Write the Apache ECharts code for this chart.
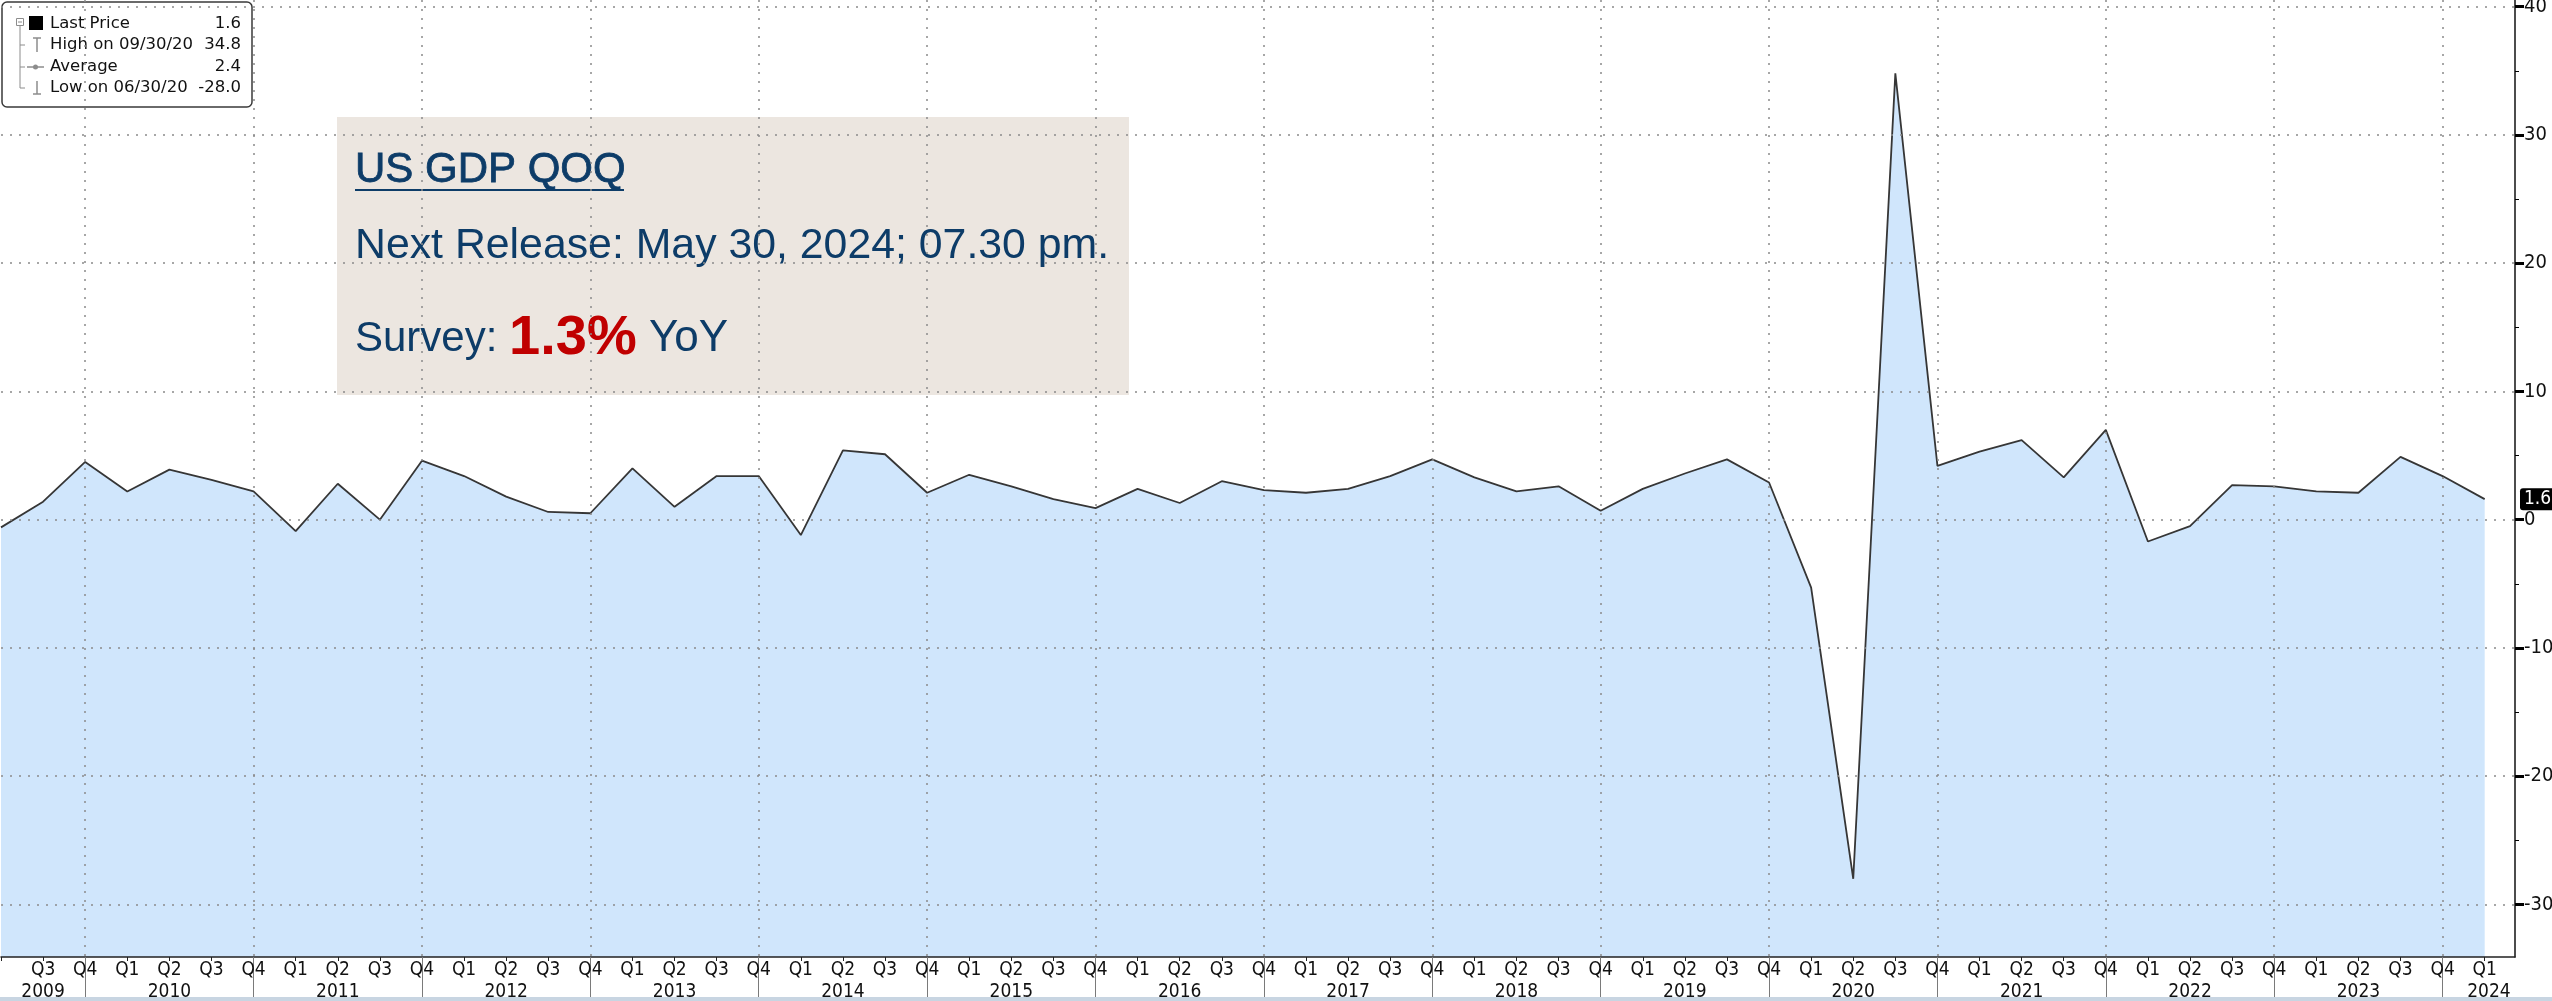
<!DOCTYPE html>
<html>
<head>
<meta charset="utf-8">
<script src="https://cdn.jsdelivr.net/npm/echarts@6/dist/echarts.min.js"></script>
<style>
html,body{margin:0;padding:0;background:#ffffff;}
#chart{width:2552px;height:1001px;}
</style>
</head>
<body>
<div id="chart"></div>
<script>
// ---------------- DATA ----------------
const quarterLabels = [
  'Q2','Q3','Q4',
  'Q1','Q2','Q3','Q4', 'Q1','Q2','Q3','Q4', 'Q1','Q2','Q3','Q4', 'Q1','Q2','Q3','Q4',
  'Q1','Q2','Q3','Q4', 'Q1','Q2','Q3','Q4', 'Q1','Q2','Q3','Q4', 'Q1','Q2','Q3','Q4',
  'Q1','Q2','Q3','Q4', 'Q1','Q2','Q3','Q4', 'Q1','Q2','Q3','Q4', 'Q1','Q2','Q3','Q4',
  'Q1','Q2','Q3','Q4', 'Q1','Q2','Q3','Q4',
  'Q1'
];
// US GDP QoQ (annualized, %), Q2 2009 .. Q1 2024
const gdpQoQ = [
  -0.6, 1.4, 4.5,
  2.2, 3.9, 3.1, 2.2,
  -0.9, 2.8, 0.0, 4.6,
  3.4, 1.8, 0.6, 0.5,
  4.0, 1.0, 3.4, 3.4,
  -1.2, 5.4, 5.1, 2.1,
  3.5, 2.6, 1.6, 0.9,
  2.4, 1.3, 3.0, 2.3,
  2.1, 2.4, 3.4, 4.7,
  3.3, 2.2, 2.6, 0.7,
  2.4, 3.6, 4.7, 2.9,
  -5.3, -28.0, 34.8, 4.2,
  5.3, 6.2, 3.3, 7.0,
  -1.7, -0.5, 2.7, 2.6,
  2.2, 2.1, 4.9, 3.4,
  1.6
];
const yearLabels = ['2009','2010','2011','2012','2013','2014','2015','2016','2017','2018','2019','2020','2021','2022','2023','2024'];
const yearLabelPos = [1, 4, 8, 12, 16, 20, 24, 28, 32, 36, 40, 44, 48, 52, 56, 59.1];
const yearBreaks = [2, 6, 10, 14, 18, 22, 26, 30, 34, 38, 42, 46, 50, 54, 58];
const yTicks = [-30, -20, -10, 0, 10, 20, 30, 40];
const yMinorTicks = [-25, -15, -5, 5, 15, 25, 35];
const legendLabels = ['Last Price', 'High on 09/30/20', 'Average', 'Low on 06/30/20'];
const legendValues = ['1.6', '34.8', '2.4', '-28.0'];
const boxTitle = 'US GDP QOQ';
const boxRelease = 'Next Release: May 30, 2024; 07.30 pm.';
const surveyPrefix = 'Survey:';
const surveyValue = '1.3%';
const surveySuffix = 'YoY';

// ---------------- CHART ----------------
const axisFont = '"Liberation Sans Narrow", "DejaVu Sans Condensed", "Liberation Sans", sans-serif';
const legendFont = '"DejaVu Sans", "Liberation Sans", sans-serif';
const boxFont = '"Liberation Sans", Arial, sans-serif';
const navy = '#0d3c68';
const X_MIN = 0, X_MAX = 59.72;
const Y_MIN = -34.1, Y_MAX = 40.52;
const gridDot = { type: [2, 7], color: '#8a8a8a', width: 1.5 };

const seriesData = gdpQoQ.map((v, i) => [i, v]);
const quarterIdx = quarterLabels.map((q, i) => i);
const quarterLabelIdx = quarterIdx.slice(1);
const lastValue = gdpQoQ[gdpQoQ.length - 1];

const chart = echarts.init(document.getElementById('chart'), null, { renderer: 'canvas' });

// legend graphic
const rowY = [24, 45, 67, 88];
const iconColor = '#8c8c8c';
const legendChildren = [
  { type: 'rect', shape: { x: 2, y: 2, width: 250, height: 105, r: 5 },
    style: { fill: '#ffffff', stroke: '#3a3a3a', lineWidth: 1.5 } },
  { type: 'line', shape: { x1: 20, y1: 26, x2: 20, y2: rowY[3] }, style: { stroke: iconColor, lineWidth: 1 } },
  { type: 'line', shape: { x1: 20, y1: rowY[1], x2: 25, y2: rowY[1] }, style: { stroke: iconColor, lineWidth: 1 } },
  { type: 'line', shape: { x1: 20, y1: rowY[2], x2: 25, y2: rowY[2] }, style: { stroke: iconColor, lineWidth: 1 } },
  { type: 'line', shape: { x1: 20, y1: rowY[3], x2: 25, y2: rowY[3] }, style: { stroke: iconColor, lineWidth: 1 } },
  { type: 'rect', shape: { x: 16.5, y: 18.5, width: 7, height: 7 }, style: { fill: '#fff', stroke: iconColor, lineWidth: 1 } },
  { type: 'line', shape: { x1: 18, y1: 22, x2: 22, y2: 22 }, style: { stroke: iconColor, lineWidth: 1 } },
  { type: 'rect', shape: { x: 29, y: 16, width: 14, height: 14 }, style: { fill: '#000000' } },
  { type: 'line', shape: { x1: 33, y1: 38, x2: 41, y2: 38 }, style: { stroke: iconColor, lineWidth: 1.5 } },
  { type: 'line', shape: { x1: 37, y1: 38, x2: 37, y2: 52 }, style: { stroke: iconColor, lineWidth: 1.5 } },
  { type: 'line', shape: { x1: 27, y1: rowY[2], x2: 44, y2: rowY[2] }, style: { stroke: iconColor, lineWidth: 1.5 } },
  { type: 'circle', shape: { cx: 35.5, cy: rowY[2], r: 2.5 }, style: { fill: iconColor } },
  { type: 'line', shape: { x1: 37, y1: 81, x2: 37, y2: 94 }, style: { stroke: iconColor, lineWidth: 1.5 } },
  { type: 'line', shape: { x1: 33, y1: 94, x2: 41, y2: 94 }, style: { stroke: iconColor, lineWidth: 1.5 } }
];
legendLabels.forEach((lab, k) => {
  legendChildren.push({ type: 'text', x: 50, y: rowY[k],
    style: { text: lab, fontSize: 16.5, fontFamily: legendFont, fill: '#111111', verticalAlign: 'middle', align: 'left' } });
  legendChildren.push({ type: 'text', x: 241, y: rowY[k],
    style: { text: legendValues[k], fontSize: 16.5, fontFamily: legendFont, fill: '#111111', verticalAlign: 'middle', align: 'right' } });
});

const option = {
  animation: false,
  backgroundColor: '#ffffff',
  grid: { left: 1, right: 37, top: 0, bottom: 44, containLabel: false, outerBoundsMode: 'none' },
  xAxis: [
    {
      type: 'value', min: X_MIN, max: X_MAX, position: 'bottom', z: 3,
      axisLine: { show: true, onZero: false, lineStyle: { color: '#222222', width: 1.5 } },
      axisTick: { show: true, customValues: quarterIdx, length: 4, lineStyle: { color: '#222222', width: 1 } },
      axisLabel: { customValues: quarterLabelIdx, formatter: v => quarterLabels[v], margin: 4,
        fontSize: 19, fontFamily: axisFont, color: '#111111' },
      splitLine: { show: false }
    },
    {
      type: 'value', min: X_MIN, max: X_MAX, position: 'bottom', z: 3,
      axisLine: { show: false, onZero: false },
      axisTick: { show: true, customValues: yearBreaks, length: 44, lineStyle: { color: '#7a7a7a', width: 1 } },
      axisLabel: { customValues: yearLabelPos, formatter: v => yearLabels[yearLabelPos.indexOf(v)], margin: 26,
        fontSize: 19, fontFamily: axisFont, color: '#111111' },
      splitLine: { show: true, lineStyle: gridDot }
    }
  ],
  yAxis: [
    {
      type: 'value', min: Y_MIN, max: Y_MAX, position: 'right', z: 3,
      axisLine: { show: true, onZero: false, lineStyle: { color: '#111111', width: 1.5 } },
      axisTick: { show: true, customValues: yTicks, length: 9, lineStyle: { color: '#000000', width: 3 } },
      axisLabel: { customValues: yTicks, margin: 9, fontSize: 20, fontFamily: axisFont, color: '#111111' },
      splitLine: { show: true, lineStyle: gridDot }
    },
    {
      type: 'value', min: Y_MIN, max: Y_MAX, position: 'right', z: 4,
      axisLine: { show: false, onZero: false },
      axisTick: { show: true, customValues: yMinorTicks, length: 4, lineStyle: { color: '#000000', width: 1 } },
      axisLabel: { customValues: [lastValue], formatter: v => v.toFixed(1), margin: 5,
        fontSize: 19, fontFamily: axisFont, color: '#ffffff', backgroundColor: '#000000',
        padding: [2, 10, 1, 4], borderRadius: 3 },
      splitLine: { show: false }
    }
  ],
  series: [
    {
      type: 'line', data: seriesData, xAxisIndex: 0, yAxisIndex: 0,
      symbol: 'none', showSymbol: false, smooth: false, z: 2,
      lineStyle: { color: '#363636', width: 1.8 },
      areaStyle: { color: '#d0e6fc', origin: 'start', opacity: 1 }
    }
  ],
  graphic: [
    { type: 'group', x: 0, y: 0, z: 20, children: legendChildren },
    { type: 'group', x: 0, y: 0, z: 20, children: [
      { type: 'rect', shape: { x: 337, y: 117, width: 792, height: 278 }, style: { fill: '#ECE6E0' } },
      { type: 'text', x: 355, y: 170, style: { text: boxTitle, fontSize: 42, fontFamily: boxFont, fill: navy,
          verticalAlign: 'middle', align: 'left', stroke: navy, lineWidth: 0.8 } },
      { type: 'line', shape: { x1: 355, y1: 190, x2: 624, y2: 190 }, style: { stroke: navy, lineWidth: 2.2 } },
      { type: 'text', x: 355, y: 246, style: { text: boxRelease, fontSize: 42.8, fontFamily: boxFont, fill: navy,
          verticalAlign: 'middle', align: 'left' } },
      { type: 'text', x: 355, y: 339, style: {
          text: '{a|' + surveyPrefix + ' }{b|' + surveyValue + '}{c| ' + surveySuffix + '}',
          verticalAlign: 'middle', align: 'left',
          rich: {
            a: { fontSize: 42, fontFamily: boxFont, fill: navy },
            b: { fontSize: 56, fontFamily: boxFont, fontWeight: 'bold', fill: '#c00000' },
            c: { fontSize: 44, fontFamily: boxFont, fill: navy }
          } } }
    ] },
    { type: 'rect', z: 20, shape: { x: 0, y: 997, width: 2552, height: 4 }, style: { fill: '#c8d5e2' } }
  ]
};
chart.setOption(option);
</script>
</body>
</html>
